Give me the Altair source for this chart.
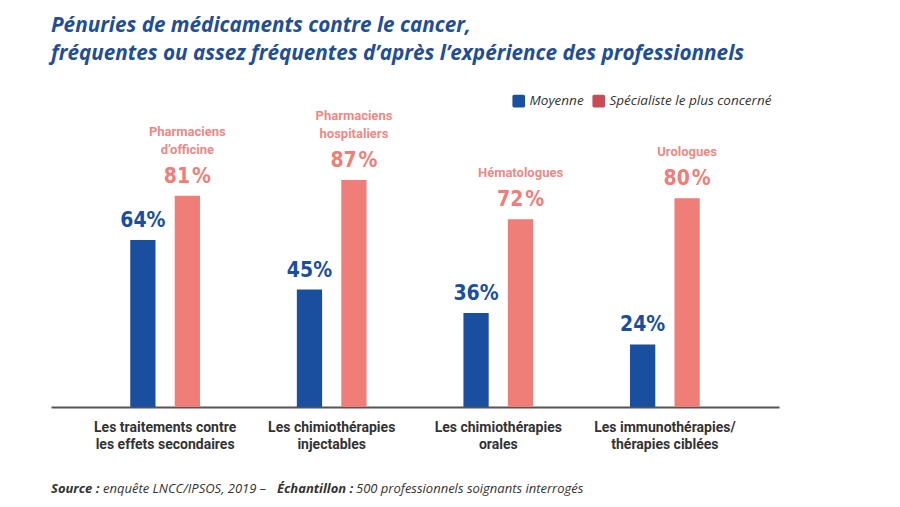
import altair as alt
import pandas as pd

# ---- data ----
categories = [
    "Les traitements contre|les effets secondaires",
    "Les chimiothérapies|injectables",
    "Les chimiothérapies|orales",
    "Les immunothérapies/|thérapies ciblées",
]
series = ["Moyenne", "Spécialiste le plus concerné"]
moyenne = [64, 45, 36, 24]
specialiste = [81, 87, 72, 80]
spec_line1 = ["Pharmaciens", "Pharmaciens", "", ""]
spec_line2 = ["d’officine", "hospitaliers", "Hématologues", "Urologues"]

title_lines = [
    "Pénuries de médicaments contre le cancer,",
    "fréquentes ou assez fréquentes d’après l’expérience des professionnels",
]
source_parts = [
    ("Source :", "bold", 0),
    ("enquête LNCC/IPSOS, 2019 –", "normal", 52),
    ("Échantillon :", "bold", 226),
    ("500 professionnels soignants interrogés", "normal", 305),
]

BLUE = "#1a4e9e"
RED = "#ef7d78"
RED_TXT = "#ec8985"
LEG_BLUE = "#1b4fa0"
LEG_RED = "#c94b56"

rows = []
for i, c in enumerate(categories):
    rows.append({"cat": c, "series": series[0], "value": moyenne[i],
                 "label": f"{moyenne[i]}%", "s1": "", "s2": ""})
    rows.append({"cat": c, "series": series[1], "value": specialiste[i],
                 "label": f"{specialiste[i]}\u200a%", "s1": spec_line1[i], "s2": spec_line2[i]})
df = pd.DataFrame(rows)

x_enc = alt.X(
    "cat:N", sort=categories,
    scale=alt.Scale(paddingInner=0.4, paddingOuter=0.385),
    axis=alt.Axis(
        title=None, labelAngle=0, ticks=False, domainColor="#555555", domainWidth=2,
        labelFont="Roboto", labelFontWeight="bold", labelFontSize=14, labelColor="#333333",
        labelPadding=13, labelLineHeight=17, labelExpr="split(datum.label, '|')",
    ),
)
xo_enc = alt.XOffset("series:N", sort=series,
                     scale=alt.Scale(domain=series, paddingInner=0.432, paddingOuter=0.34))
y_enc = alt.Y("value:Q", scale=alt.Scale(domain=[0, 115], nice=False, zero=True), axis=None)
color_enc = alt.Color("series:N", scale=alt.Scale(domain=series, range=[BLUE, RED]), legend=None)

base = alt.Chart(df)

bars = base.mark_bar().encode(x=x_enc, xOffset=xo_enc, y=y_enc, color=color_enc)

pct = base.mark_text(
    font="DejaVu Sans Condensed, Roboto Condensed, Roboto", fontWeight="bold", fontSize=21,
    baseline="alphabetic", dy=-13,
).encode(x=x_enc, xOffset=xo_enc, y=y_enc, text="label:N", color=color_enc)

spec1 = base.transform_filter(alt.datum.s1 != "").mark_text(
    font="Roboto", fontWeight="bold", fontSize=13, baseline="alphabetic", dy=-60, color=RED_TXT,
).encode(x=x_enc, xOffset=xo_enc, y=y_enc, text="s1:N")

spec2 = base.transform_filter(alt.datum.s2 != "").mark_text(
    font="Roboto", fontWeight="bold", fontSize=13, baseline="alphabetic", dy=-42, color=RED_TXT,
).encode(x=x_enc, xOffset=xo_enc, y=y_enc, text="s2:N")

rounded = ("M-0.75,-1L0.75,-1Q1,-1 1,-0.75L1,0.75Q1,1 0.75,1L-0.75,1"
           "Q-1,1 -1,0.75L-1,-0.75Q-1,-1 -0.75,-1Z")
legend_layer = base.mark_square(size=150, opacity=0).encode(
    x=x_enc, xOffset=xo_enc, y=y_enc,
    color=alt.Color(
        "series:N", sort=series,
        scale=alt.Scale(domain=series, range=[LEG_BLUE, LEG_RED]),
        legend=alt.Legend(
            title=None, orient="none", legendX=461, legendY=-13, direction="horizontal",
            symbolType=rounded, symbolSize=160, symbolStrokeWidth=0, symbolOpacity=1,
            labelFont="Open Sans", labelFontStyle="italic", labelFontSize=13.5,
            labelColor="#333333", columnPadding=8, labelOffset=4, labelLimit=400,
        ),
    ),
)

src_layers = []
for txt, w, xp in source_parts:
    src_layers.append(
        alt.Chart(pd.DataFrame({"t": [txt]})).mark_text(
            align="left", baseline="alphabetic", font="Open Sans", fontStyle="italic",
            fontWeight=w, fontSize=13, color="#333333",
        ).encode(x=alt.value(xp), y=alt.value(386), text="t:N")
    )

chart = alt.layer(
    alt.layer(bars, pct, spec1, spec2), legend_layer, *src_layers
).resolve_scale(color="independent").properties(
    width=728, height=300,
    autosize=alt.AutoSizeParams(type="none"),
    padding={"left": 43, "top": 99, "right": 100, "bottom": 90},
    title=alt.TitleParams(
        text=title_lines, anchor="start", frame="group", font="Open Sans", fontSize=20.7,
        fontWeight="bold", fontStyle="italic", color="#1f4e94", baseline="bottom",
        lineHeight=28, offset=9,
    ),
).configure_view(stroke=None)

chart.save("out.html", embed_options={"renderer": "svg", "actions": False})
